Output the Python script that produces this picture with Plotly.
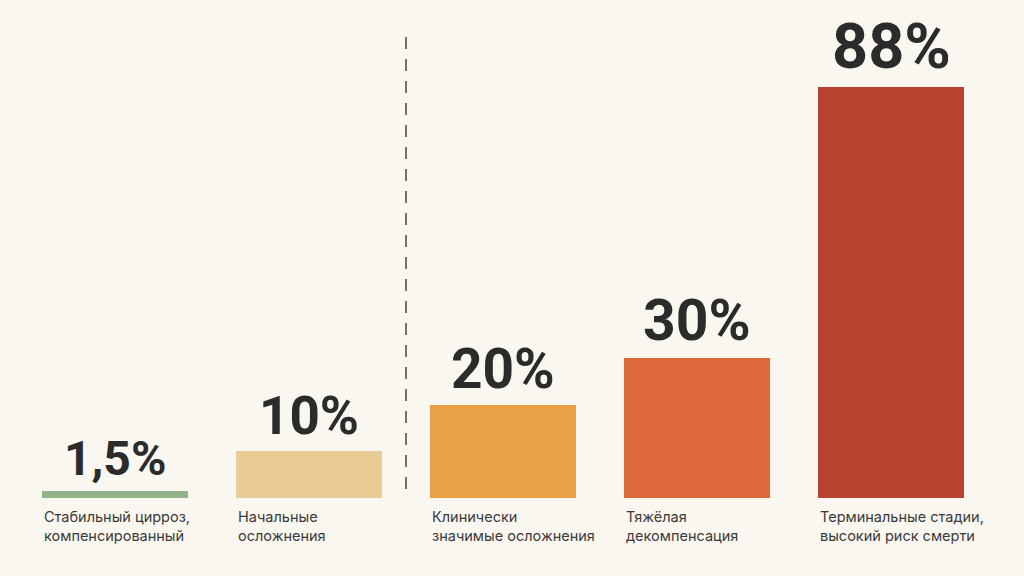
import plotly.graph_objects as go

# stages of cirrhosis and the mortality figure shown above each bar
stages = [
    "Стабильный цирроз,<br>компенсированный",
    "Начальные<br>осложнения",
    "Клинически<br>значимые осложнения",
    "Тяжёлая<br>декомпенсация",
    "Терминальные стадии,<br>высокий риск смерти",
]
mortality = [1.5, 10, 20, 30, 88]
value_labels = ["1,5%", "10%", "20%", "30%", "88%"]
bar_colors = ["#93b38b", "#e8cb95", "#e9a146", "#dd693d", "#b8412f"]
label_sizes = [48, 53, 55, 57, 63]

BG = "#faf6f0"
TEXT = "#2b2b2b"

x_pos = list(range(len(stages)))
bar_width = 0.75

fig = go.Figure()
fig.add_trace(go.Bar(
    x=x_pos, y=mortality, width=bar_width,
    marker=dict(color=bar_colors, line=dict(width=0)),
    hoverinfo="skip", showlegend=False,
))

# big percentage above each bar
for x, v, txt, size in zip(x_pos, mortality, value_labels, label_sizes):
    fig.add_annotation(
        x=x, y=v, text=txt, showarrow=False,
        xanchor="center", yanchor="bottom", yshift=2,
        font=dict(family="Roboto", size=size, color=TEXT, weight=700),
    )

# stage description under each bar, left aligned with bar edge
for x, name in zip(x_pos, stages):
    fig.add_annotation(
        x=x - bar_width / 2, y=0, text=name, showarrow=False,
        xanchor="left", yanchor="top", align="left", yshift=-8,
        font=dict(family="Inter", size=14.5, color="#3a3a3a"),
    )

# dashed divider between early and late stages (drawn top-down so a dash starts at the top)
fig.add_shape(
    type="line", x0=1.5, x1=1.5, y0=98.7, y1=0,
    xref="x", yref="y",
    line=dict(color="#444444", width=1.5, dash="12px,10px"),
)

fig.update_layout(
    width=1024, height=576,
    paper_bgcolor=BG, plot_bgcolor=BG,
    margin=dict(l=18, r=36, t=31, b=78),
    xaxis=dict(range=[-0.5, 4.5], visible=False),
    yaxis=dict(range=[0, 100], visible=False),
    bargap=0,
)

fig.write_html("out.html", config={"displayModeBar": False},
               post_script="document.body.style.margin='0';")
